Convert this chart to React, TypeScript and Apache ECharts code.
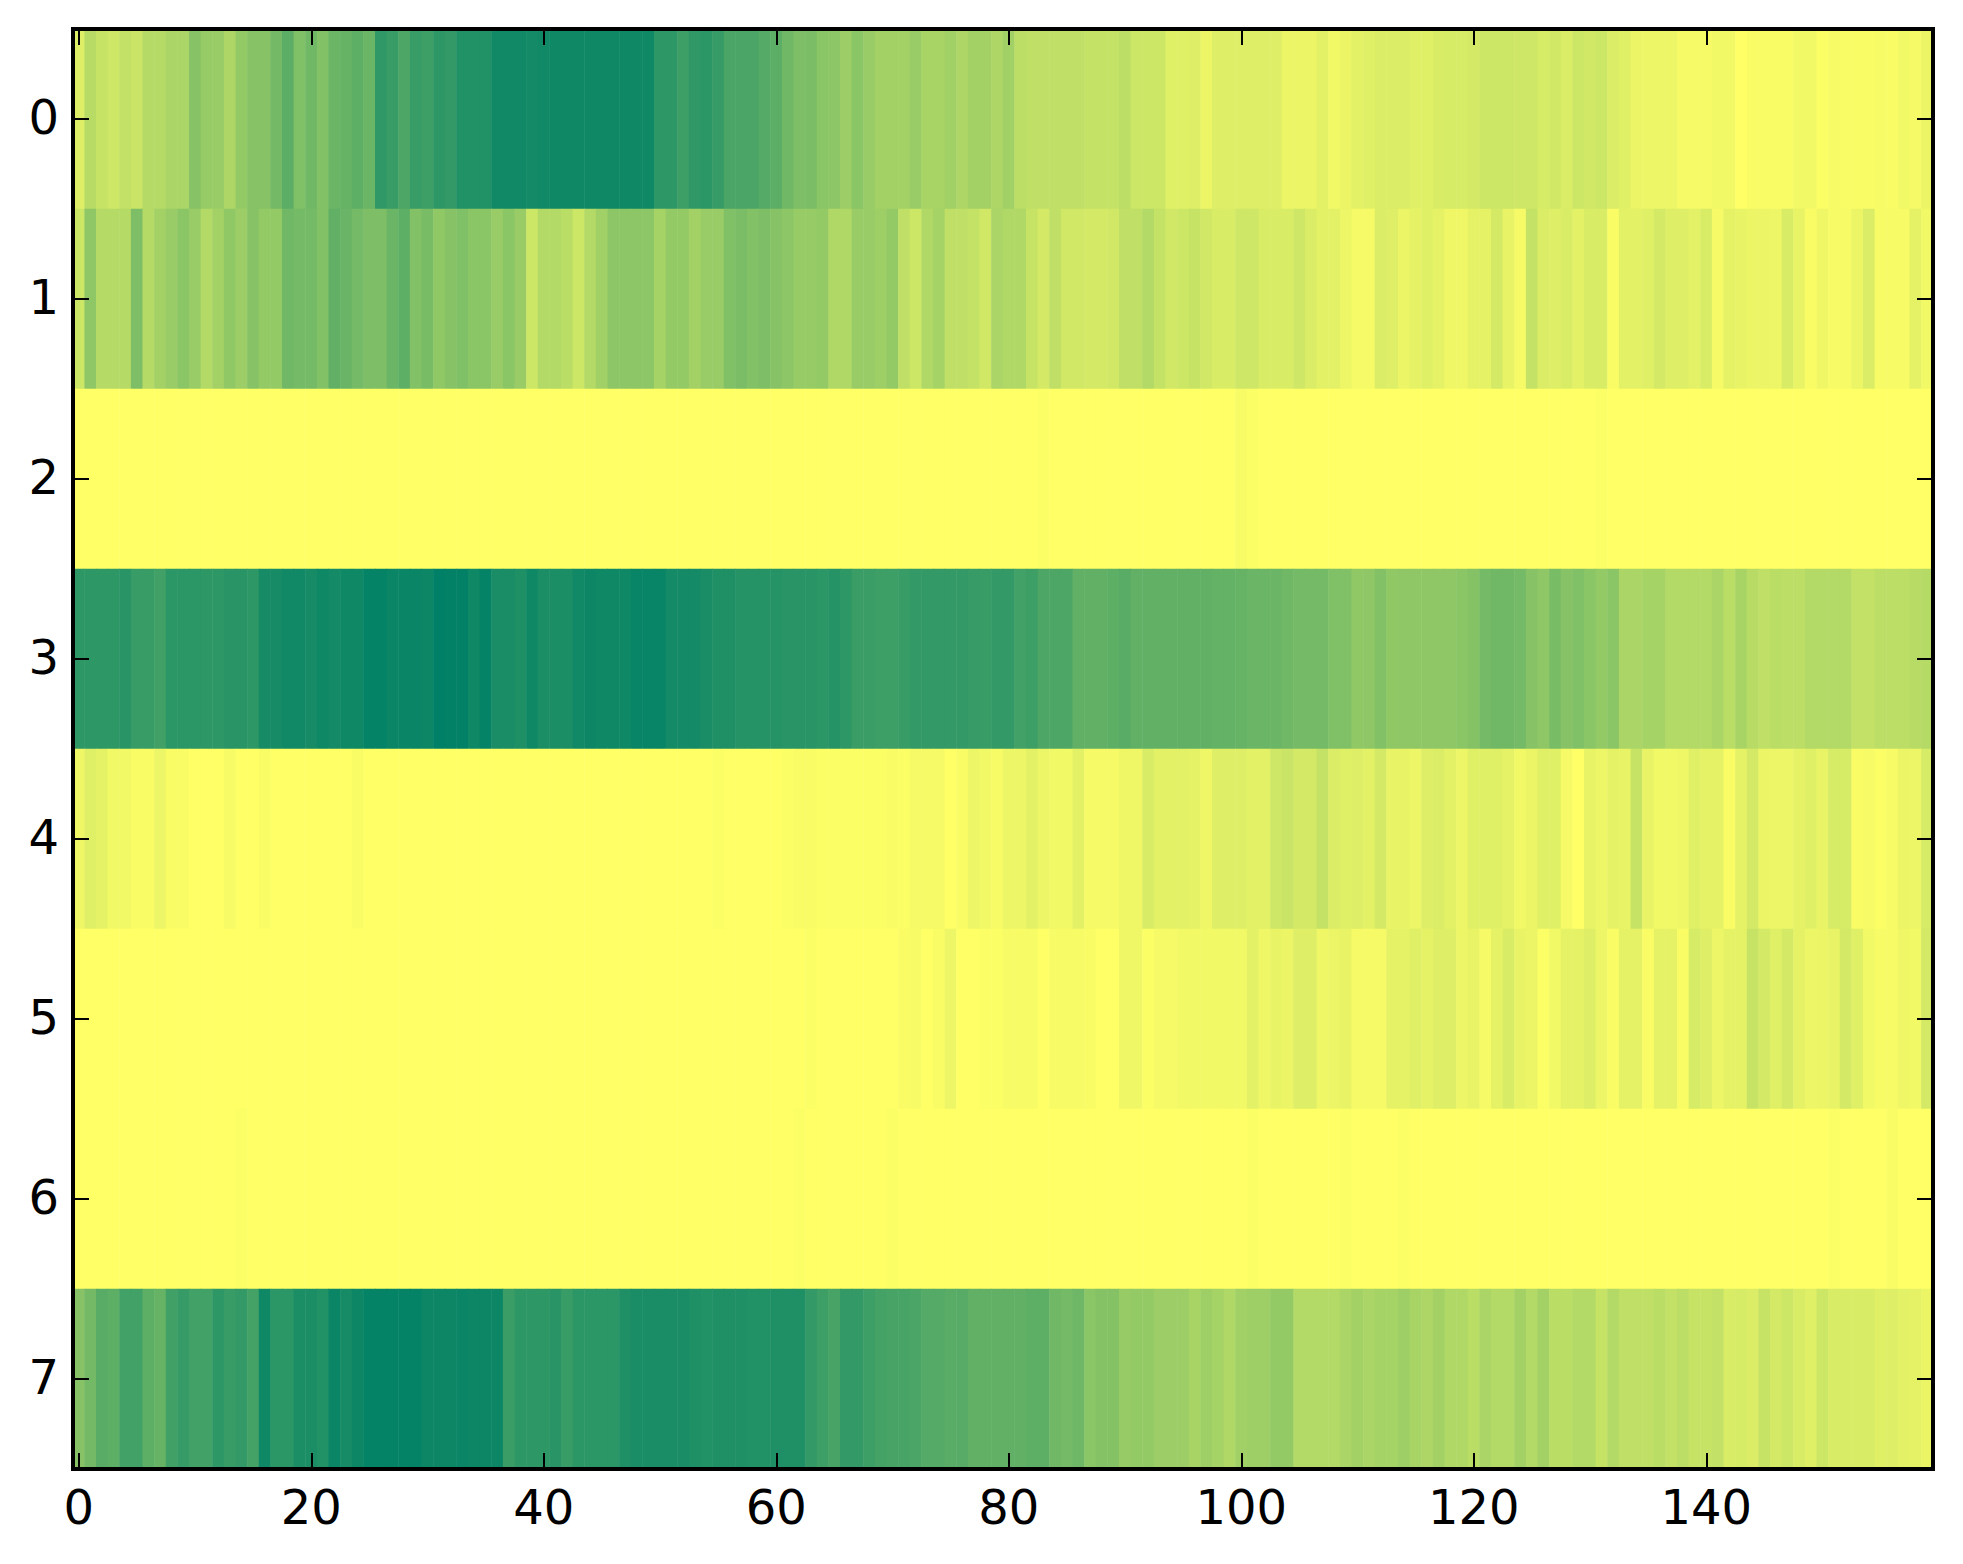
import React, { useEffect, useRef } from "react";
import * as echarts from "echarts";

const COLUMN_COUNT = 160;
const columnLabels = Array.from({ length: COLUMN_COUNT }, (_, i) => String(i));
const rowLabels = ["0", "1", "2", "3", "4", "5", "6", "7"];

const row0 = [
  13,28,22,19,24,21,29,29,33,33, 47,41,40,32,42,47,47,55,64,50,
  56,49,58,60,63,58,81,78,70,78, 76,82,80,87,87,87,93,93,93,92,
  93,94,94,94,94,94,94,94,94,94, 82,82,76,81,83,79,71,71,71,67,
  64,56,51,52,46,45,39,46,40,36, 36,36,40,34,34,37,32,36,36,32,
  37,26,25,25,25,25,25,23,23,23, 26,20,20,20,12,12,13,8,13,13,
  13,13,13,13,8,8,8,11,5,8, 11,12,14,14,14,12,12,15,16,16,
  17,20,20,20,19,19,16,18,14,20, 18,20,14,12,8,7,7,7,4,4,
  4,5,5,0,2,2,2,2,5,5, 1,3,2,2,2,3,2,5,4,8,
];
const row1 = [
  20,44,29,29,29,51,29,36,40,46, 40,30,36,43,39,47,42,42,56,54,
  54,49,62,59,54,51,51,58,63,49, 53,43,47,50,46,46,40,46,40,20,
  30,30,27,20,30,37,45,45,45,45, 35,42,42,36,40,40,50,52,49,51,
  47,45,41,41,42,31,31,40,40,38, 42,25,20,31,35,25,25,23,18,33,
  31,31,22,17,25,18,18,17,17,18, 25,25,30,23,18,20,22,18,15,15,
  19,19,15,15,15,19,14,11,11,7, 4,4,14,13,8,10,12,10,6,6,
  10,10,17,9,4,23,14,13,15,11, 15,15,2,11,11,12,17,13,13,11,
  15,4,10,9,8,8,7,15,9,2, 6,3,3,8,14,3,3,3,10,5,
];
const row2 = [
  0,0,0,0,0,0,0,0,0,0, 0,0,0,0,0,0,0,0,0,0,
  0,0,0,0,0,0,0,0,0,0, 0,0,0,0,0,0,0,0,0,0,
  0,0,0,0,0,0,0,0,0,0, 0,0,0,0,0,0,0,0,0,0,
  0,0,0,0,0,0,0,0,0,0, 0,0,0,0,0,0,0,0,0,0,
  0,0,0,1,0,0,0,0,0,0, 0,0,0,0,0,0,0,0,0,0,
  3,1,0,0,0,0,0,0,0,0, 0,0,0,0,0,0,0,0,0,0,
  0,0,0,0,0,0,0,0,0,0, 0,1,0,0,0,0,0,0,0,0,
  0,0,0,0,0,0,0,0,0,0, 0,0,0,0,0,0,0,0,0,0,
];
const row3 = [
  82,82,82,82,84,78,78,75,83,83, 83,82,82,84,84,82,91,91,93,93,
  91,94,92,94,94,98,98,96,96,96, 95,100,99,99,94,98,90,90,88,94,
  89,89,89,93,95,94,94,94,97,97, 97,92,92,92,90,88,88,85,85,85,
  85,84,84,84,83,85,82,77,77,76, 76,78,80,80,80,80,80,79,78,80,
  80,74,76,70,70,70,62,62,62,63, 65,62,62,62,62,62,62,62,61,61,
  60,58,58,58,56,54,54,54,50,50, 43,44,49,43,44,44,44,44,44,46,
  48,54,56,56,54,47,44,53,47,50, 46,42,46,33,33,35,35,30,30,30,
  30,33,27,34,28,25,27,26,26,30, 30,30,30,24,24,26,26,26,28,29,
];
const row4 = [
  6,12,10,5,5,2,2,7,2,2, 0,0,0,3,0,0,2,0,0,0,
  0,0,0,0,2,0,0,0,0,0, 0,0,0,0,0,0,0,0,0,0,
  0,0,0,0,0,0,0,0,0,0, 0,0,0,0,0,1,0,0,0,0,
  0,1,2,2,1,1,1,1,1,1, 2,1,4,4,4,0,2,7,5,3,
  7,7,11,7,5,5,11,4,4,4, 6,6,15,11,11,11,10,6,13,13,
  13,11,11,19,21,17,17,23,14,12, 13,11,17,9,9,7,13,14,11,7,
  12,12,12,10,5,8,12,12,4,0, 9,7,10,9,22,9,5,5,6,12,
  10,10,2,10,17,8,7,7,10,12, 9,16,16,2,3,1,3,8,7,16,
];
const row5 = [
  0,0,0,0,0,0,0,0,0,0, 0,0,0,0,0,0,0,0,0,0,
  0,0,0,0,0,0,0,0,0,0, 0,0,0,0,0,0,0,0,0,0,
  0,0,0,0,0,0,0,0,0,0, 0,0,0,0,0,0,0,0,0,0,
  0,0,0,1,0,0,0,0,0,0, 0,2,3,0,2,7,0,0,1,1,
  3,3,3,0,3,3,3,2,0,0, 6,6,1,4,4,5,5,5,5,5,
  5,11,6,9,8,13,13,6,8,9, 4,4,4,10,10,12,10,13,13,7,
  9,4,10,15,9,8,1,5,10,10, 13,7,2,10,10,2,10,10,2,16,
  13,7,10,10,22,17,12,17,10,7, 8,9,17,12,5,3,3,6,5,17,
];
const row6 = [
  0,0,0,0,0,0,0,0,0,0, 0,0,0,0,1,0,0,0,0,0,
  0,0,0,0,0,0,0,0,0,0, 0,0,0,0,0,0,0,0,0,0,
  0,0,0,0,0,0,0,0,0,0, 0,0,0,0,0,0,0,0,0,0,
  0,0,1,0,0,0,0,0,0,0, 1,0,0,0,0,0,0,0,0,0,
  0,0,0,0,0,0,0,0,0,0, 0,0,0,0,0,0,0,0,0,0,
  0,1,0,0,0,0,0,0,0,1, 0,0,0,0,1,0,0,0,0,0,
  0,0,0,0,0,0,0,0,0,0, 0,0,0,0,0,0,0,0,0,0,
  0,0,0,0,0,0,0,0,0,0, 0,1,0,0,0,0,2,0,0,0,
];
const row7 = [
  47,55,65,63,74,74,63,60,75,79, 74,74,82,78,80,73,94,83,83,89,
  89,87,96,91,95,98,98,98,98,98, 95,95,95,96,95,95,95,77,82,82,
  82,84,78,83,83,83,83,88,90,90, 90,90,90,88,87,88,88,88,87,87,
  88,88,88,80,76,72,80,80,76,73, 72,72,71,67,67,65,66,62,62,62,
  62,62,63,63,56,54,57,46,48,48, 41,42,42,39,39,39,34,38,35,31,
  37,38,38,42,42,30,30,30,30,33, 36,33,35,35,38,34,32,36,31,31,
  27,33,30,30,36,30,36,27,27,30, 30,22,30,25,25,25,27,24,26,22,
  22,24,15,16,14,22,17,20,15,12, 20,15,15,15,15,12,13,11,10,8,
];
const rows = [row0, row1, row2, row3, row4, row5, row6, row7];

const FONT = "DejaVu Sans";
const everyTwenty = (i: number) => i % 20 === 0;

const spine = { show: true, onZero: false, lineStyle: { color: "#000", width: 4, cap: "square" as const } };
const tick = (interval: any) => ({
  show: true,
  inside: true,
  length: 16,
  alignWithLabel: true,
  interval,
  lineStyle: { color: "#000", width: 2 },
});

export default function App() {
  const ref = useRef<HTMLDivElement>(null);
  useEffect(() => {
    const chart = echarts.init(ref.current!, undefined, { renderer: "svg" });
    const data: number[][] = [];
    rows.forEach((row, y) => row.forEach((v, x) => data.push([x, y, v])));
    chart.setOption({
      animation: false,
      backgroundColor: "#fff",
      grid: { left: 73, top: 29, width: 1860, height: 1440, show: false },
      visualMap: {
        show: false,
        type: "continuous",
        min: 0,
        max: 100,
        dimension: 2,
        inRange: { color: ["#ffff66", "#008066"] },
      },
      xAxis: [
        {
          type: "category",
          data: columnLabels,
          position: "bottom",
          z: 10,
          axisLine: spine,
          axisTick: tick(everyTwenty),
          splitLine: { show: false },
          axisLabel: {
            show: true,
            interval: everyTwenty,
            hideOverlap: false,
            margin: 14,
            fontFamily: FONT,
            fontSize: 48,
            color: "#000",
          },
        },
        {
          type: "category",
          data: columnLabels,
          position: "top",
          z: 10,
          axisLine: spine,
          axisTick: tick(everyTwenty),
          splitLine: { show: false },
          axisLabel: { show: false },
        },
      ],
      yAxis: [
        {
          type: "category",
          data: rowLabels,
          inverse: true,
          position: "left",
          z: 10,
          axisLine: spine,
          axisTick: tick(0),
          splitLine: { show: false },
          axisLabel: {
            show: true,
            interval: 0,
            margin: 14,
            verticalAlign: "bottom",
            lineHeight: 5,
            fontFamily: FONT,
            fontSize: 48,
            color: "#000",
          },
        },
        {
          type: "category",
          data: rowLabels,
          inverse: true,
          position: "right",
          z: 10,
          axisLine: spine,
          axisTick: tick(0),
          splitLine: { show: false },
          axisLabel: { show: false },
        },
      ],
      series: [
        {
          type: "heatmap",
          data,
          xAxisIndex: 0,
          yAxisIndex: 0,
          progressive: 0,
          itemStyle: { borderWidth: 0 },
          emphasis: { disabled: true },
        },
      ],
    });
    return () => chart.dispose();
  }, []);
  return (
    <div
      ref={ref}
      style={{ position: "fixed", left: 0, top: 0, width: 1963, height: 1564 }}
    />
  );
}
